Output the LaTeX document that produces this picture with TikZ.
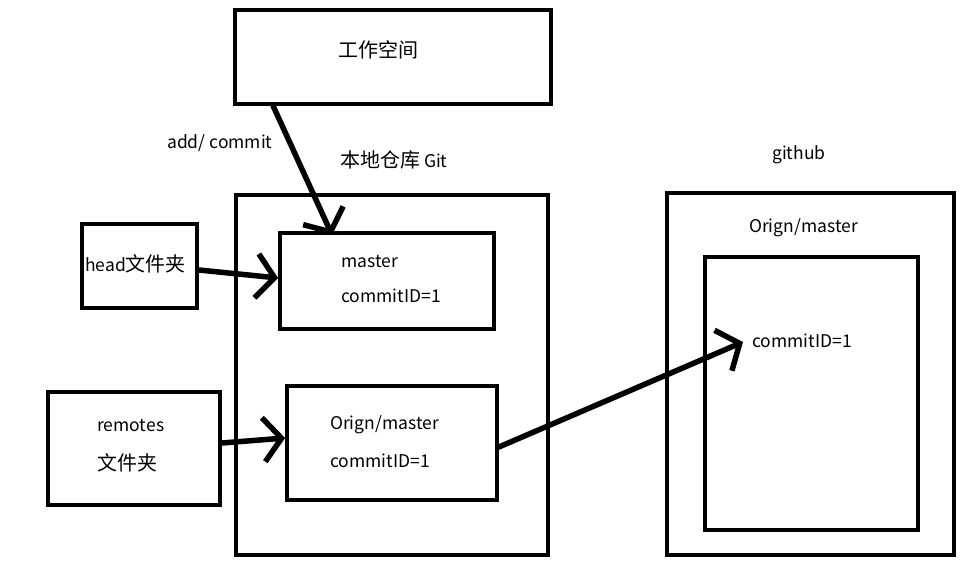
\documentclass[tikz,border=0pt]{standalone}
\usepackage{fontspec}
\setmainfont{Noto Sans CJK SC}
\usetikzlibrary{arrows.meta}
\newcommand{\zhbig}{\fontsize{20}{22}\selectfont}

\begin{document}
\begin{tikzpicture}[
        x=1pt, y=-1pt,
        box/.style={draw, line width=3.8pt, minimum width=#1, inner sep=0pt},
        txt/.style={font=\fontsize{17.5}{20}\selectfont, inner sep=0pt, anchor=west},
        arr/.style={line width=5.5pt, line cap=round,
                    -{Straight Barb[length=18pt, width=44pt, line width=5.5pt]}}
    ]
    \useasboundingbox (0,0) rectangle (975,580);

    % boxes
    \node[box=316pt, minimum height=94pt] (work) at (393,57) {};
    \node[box=312pt, minimum height=360pt] (local) at (392,375) {};
    \node[box=214pt, minimum height=96pt] (master) at (387,281) {};
    \node[box=210pt, minimum height=114pt] (lorigin) at (392,443) {};
    \node[box=115pt, minimum height=84pt] (head) at (139.5,266) {};
    \node[box=172pt, minimum height=113pt] (remotes) at (134,448.5) {};
    \node[box=287pt, minimum height=362pt] (github) at (810.5,374) {};
    \node[box=213pt, minimum height=273pt] (inner) at (811.5,393.5) {};

    % texts
    \node[txt] (tWork) at (338,50) {{\zhbig 工作空间}};
    \node[txt] (tAdd) at (167,143) {add/ commit};
    \node[txt] (tLocal) at (340,160) {{\zhbig 本地仓库} Git};
    \node[txt] (tGithub) at (772,155) {github};
    \node[txt] (tGOrign) at (749,228) {Orign/master};
    \node[txt] (tGCommit) at (752,341) {commitID=1};
    \node[txt] (tHead) at (85,264) {head{\zhbig 文件夹}};
    \node[txt] (tRemotes) at (97,426) {remotes};
    \node[txt] (tRemotes2) at (97,463) {{\zhbig 文件夹}};
    \node[txt] (tMaster) at (341,262) {master};
    \node[txt] (tMCommit) at (341,296) {commitID=1};
    \node[txt] (tLOrign) at (330,425) {Orign/master};
    \node[txt] (tLCommit) at (330,461) {commitID=1};

    \coordinate (tip) at (743,342);

    % arrows
    \draw[arr] ([xshift=40pt]work.south west) -- ([xshift=54pt,yshift=-4pt]master.north west);
    \draw[arr] ([yshift=-4pt]head.east) -- ([yshift=3pt]master.west);
    \draw[arr] ([yshift=5.5pt]remotes.east) -- ([yshift=5pt]lorigin.west);
    \draw[arr] ([yshift=-4pt]lorigin.east) -- (tip);
\end{tikzpicture}
\end{document}
